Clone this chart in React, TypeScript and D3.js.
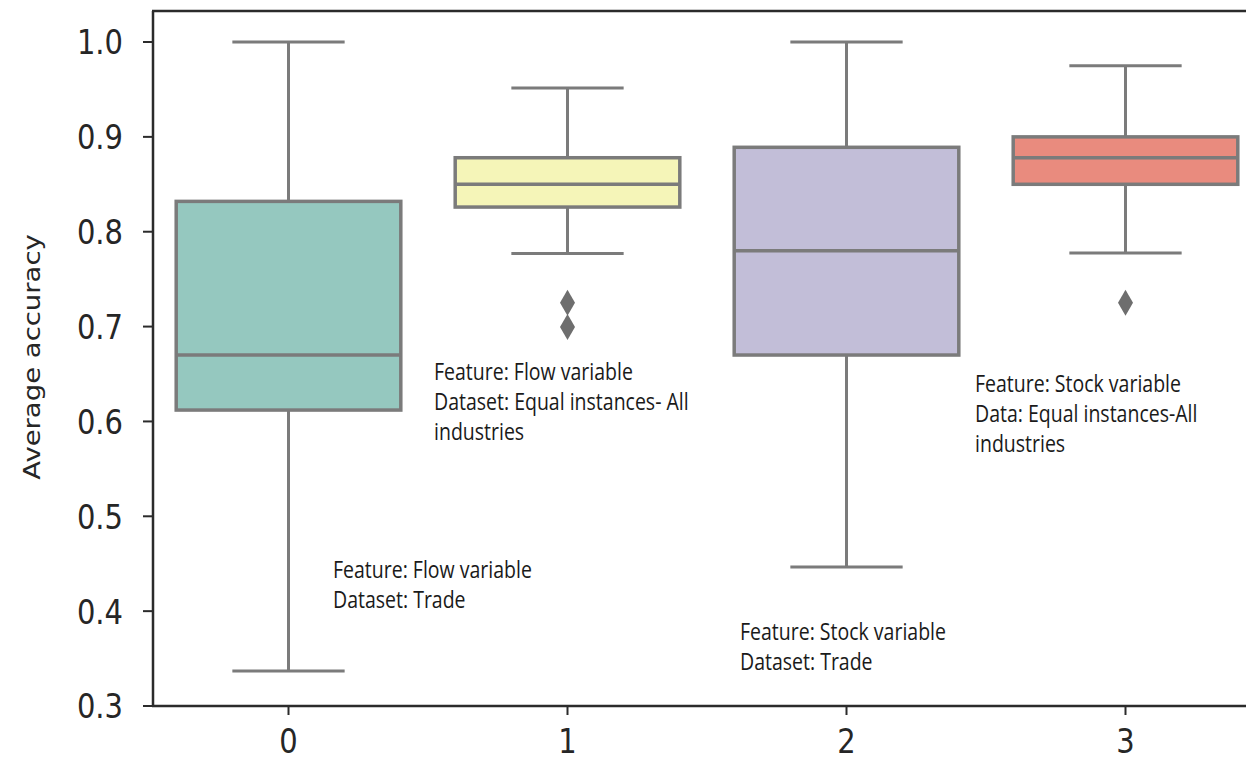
import React from "react";
import * as d3 from "d3";

const categories = ["0", "1", "2", "3"];
const q1Values = [0.612, 0.826, 0.670, 0.850];
const medianValues = [0.670, 0.850, 0.780, 0.878];
const q3Values = [0.832, 0.878, 0.889, 0.900];
const whiskerLowValues = [0.337, 0.777, 0.4465, 0.7775];
const whiskerHighValues = [1.0, 0.9515, 1.0, 0.975];
const outlierValues: number[][] = [[], [0.725, 0.6995], [], [0.725]];
const boxColors = ["#95c8bf", "#f5f5b8", "#c2bed8", "#e98b7e"];
const yTicks = [0.3, 0.4, 0.5, 0.6, 0.7, 0.8, 0.9, 1.0];
const yLabel = "Average accuracy";

const annotationTexts = [
  ["Feature: Flow variable", "Dataset: Trade"],
  ["Feature: Flow variable", "Dataset: Equal instances- All", "industries"],
  ["Feature: Stock variable", "Dataset: Trade"],
  ["Feature: Stock variable", "Data: Equal instances-All", "industries"],
];
const annotationValues = [0.435, 0.6437, 0.3696, 0.631];
const annotationOffsets = [44.5, -133.5, -106.5, -150.5];

const W = 1246;
const H = 758;
const SY = 1.17;
const LINE = "#7b7b7b";
const SPINE = "#2b2b2b";

export default function App() {
  const left = 153;
  const top = 11;
  const bottom = 706;
  const x = d3.scaleLinear().domain([0, 3]).range([288.5, 1125.5]);
  const y = d3.scaleLinear().domain([0.3, 1.0327]).range([bottom, top]);
  const band = x(1) - x(0);
  const boxW = band * 0.805;
  const capW = boxW / 2;

  const diamond = (cx: number, cy: number) => {
    const hw = 7.5, hh = 13;
    return `M${cx},${cy - hh}L${cx + hw},${cy}L${cx},${cy + hh}L${cx - hw},${cy}Z`;
  };

  return (
    <svg width={W} height={H} style={{ position: "absolute", left: 0, top: 0, background: "#fff" }}>
      {categories.map((c, i) => {
        const cx = x(i);
        return (
          <g key={c}>
            <line x1={cx} x2={cx} y1={y(q3Values[i])} y2={y(whiskerHighValues[i])} stroke={LINE} strokeWidth={3} />
            <line x1={cx} x2={cx} y1={y(q1Values[i])} y2={y(whiskerLowValues[i])} stroke={LINE} strokeWidth={3} />
            <line x1={cx - capW / 2} x2={cx + capW / 2} y1={y(whiskerHighValues[i])} y2={y(whiskerHighValues[i])} stroke={LINE} strokeWidth={3} />
            <line x1={cx - capW / 2} x2={cx + capW / 2} y1={y(whiskerLowValues[i])} y2={y(whiskerLowValues[i])} stroke={LINE} strokeWidth={3} />
            <rect x={cx - boxW / 2} y={y(q3Values[i])} width={boxW} height={y(q1Values[i]) - y(q3Values[i])} fill={boxColors[i]} stroke={LINE} strokeWidth={3.5} />
            <line x1={cx - boxW / 2} x2={cx + boxW / 2} y1={y(medianValues[i])} y2={y(medianValues[i])} stroke={LINE} strokeWidth={3.5} />
            {outlierValues[i].map((v, k) => (
              <path key={k} d={diamond(cx, y(v))} fill="#6e6e6e" />
            ))}
          </g>
        );
      })}

      {/* spines */}
      <line x1={left} x2={left} y1={top} y2={bottom} stroke={SPINE} strokeWidth={2.5} />
      <line x1={left - 1} x2={W} y1={bottom} y2={bottom} stroke={SPINE} strokeWidth={2.5} />
      <line x1={left - 1} x2={W} y1={top} y2={top} stroke={SPINE} strokeWidth={2.5} />

      {/* y ticks */}
      {yTicks.map((t) => (
        <g key={t}>
          <line x1={left - 10} x2={left} y1={y(t)} y2={y(t)} stroke={SPINE} strokeWidth={2} />
          <text
            transform={`translate(${left - 30},${y(t) + 12.4}) scale(1,${SY})`}
            textAnchor="end"
            fontFamily="DejaVu Sans"
            fontSize={29}
            fill="#262626"
          >
            {t.toFixed(1)}
          </text>
        </g>
      ))}

      {/* x ticks */}
      {categories.map((c, i) => (
        <g key={c}>
          <line x1={x(i)} x2={x(i)} y1={bottom} y2={bottom + 9} stroke={SPINE} strokeWidth={2} />
          <text
            transform={`translate(${x(i)},${bottom + 47}) scale(1,${SY})`}
            textAnchor="middle"
            fontFamily="DejaVu Sans"
            fontSize={29}
            fill="#262626"
          >
            {c}
          </text>
        </g>
      ))}

      {/* y label */}
      <text
        transform={`translate(40,357) rotate(-90) scale(${SY},1)`}
        textAnchor="middle"
        fontFamily="DejaVu Sans"
        fontSize={23.5}
        fill="#262626"
      >
        {yLabel}
      </text>

      {/* annotations */}
      {annotationTexts.map((lines, i) => {
        const ax = x(i) + annotationOffsets[i];
        return (
          <g key={i}>
            {lines.map((l, k) => (
              <text
                key={k}
                transform={`translate(${ax},${y(annotationValues[i]) + k * 30}) scale(1,${SY})`}
                fontFamily="Open Sans"
                fontSize={19.5}
                fill="#1a1a1a"
              >
                {l}
              </text>
            ))}
          </g>
        );
      })}
    </svg>
  );
}
